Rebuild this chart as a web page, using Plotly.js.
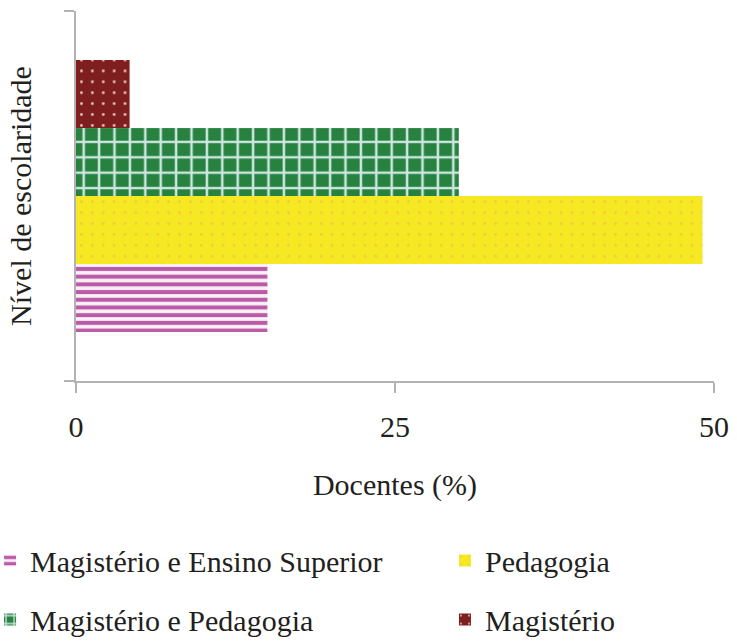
<!DOCTYPE html>
<html>
<head>
<meta charset="utf-8">
<script src="https://cdn.plot.ly/plotly-3.0.1.min.js"></script>
<style>
  html, body { margin: 0; padding: 0; background: #ffffff; }
  #chart { width: 737px; height: 641px; }
  #chart .modebar-container { display: none !important; }
  #chart svg text { font-family: "Liberation Serif", "Times New Roman", serif !important; }
</style>
</head>
<body>
<div id="chart"></div>
<script>
// Formação dos docentes por nível de escolaridade (%)
const category = ['Escolaridade'];
const seriesNames = [
  'Magistério e Ensino Superior',
  'Pedagogia',
  'Magistério e Pedagogia',
  'Magistério'
];
const seriesValues = [15.0, 49.1, 30.0, 4.2];
const xTickValues = [0, 25, 50];
const xTickLabels = ['0', '25', '50'];

const serif = 'Liberation Serif';
const ink = '#231f20';
const axisGrey = '#b3b3b3';

// fill style for each series, in trace order
const fills = [
  { color: '#ffffff', pattern: { shape: '-', bgcolor: '#f7f0f6', fgcolor: '#bb5aa6', size: 7.7, solidity: 0.52 } },
  { color: '#f6e924', pattern: { shape: '.', bgcolor: '#f6e924', fgcolor: '#f4c93a', size: 10.9, solidity: 0.05 } },
  { color: '#27813f', pattern: { shape: '+', bgcolor: '#27813f', fgcolor: '#cde7e1', size: 15.4, solidity: 0.3 } },
  { color: '#7f1e1e', pattern: { shape: '.', bgcolor: '#7f1e1e', fgcolor: '#e9c3c3', size: 10.9, solidity: 0.05 } }
];
// left legend column holds series 0 and 2, right column series 1 and 3
const legendOf = ['legend', 'legend2', 'legend', 'legend2'];

const traces = seriesNames.map((name, i) => ({
  type: 'bar',
  orientation: 'h',
  name: name,
  y: category,
  x: [seriesValues[i]],
  legend: legendOf[i],
  legendgroup: 'g' + i,
  marker: {
    color: fills[i].color,
    pattern: fills[i].pattern,
    line: { width: 0 }
  },
  hoverinfo: 'x+name'
}));

const legendCommon = {
  orientation: 'v',
  xanchor: 'left',
  yanchor: 'top',
  y: -0.415,
  traceorder: 'grouped',
  tracegroupgap: 17,
  font: { family: serif, size: 30, color: ink },
  bgcolor: 'rgba(0,0,0,0)',
  borderwidth: 0,
  indentation: -10
};

const layout = {
  width: 737,
  height: 641,
  margin: { l: 76, r: 23, t: 11, b: 260, autoexpand: false },
  paper_bgcolor: '#ffffff',
  plot_bgcolor: '#ffffff',
  barmode: 'group',
  bargap: 0.265,
  bargroupgap: 0,
  showlegend: true,
  font: { family: serif, size: 30, color: ink },
  xaxis: {
    range: [0, 50],
    tickmode: 'array',
    tickvals: xTickValues,
    ticktext: xTickLabels,
    showgrid: false,
    zeroline: false,
    showline: true,
    linecolor: axisGrey,
    linewidth: 1.5,
    ticks: 'outside',
    ticklen: 10,
    tickwidth: 1.5,
    tickcolor: axisGrey,
    ticklabelstandoff: 8,
    tickfont: { family: serif, size: 30, color: ink },
    title: { text: 'Docentes (%)', font: { family: serif, size: 30, color: ink }, standoff: 32 },
    fixedrange: true
  },
  yaxis: {
    type: 'category',
    showgrid: false,
    zeroline: false,
    showline: true,
    linecolor: axisGrey,
    linewidth: 1.5,
    ticks: 'outside',
    tickson: 'boundaries',
    ticklen: 10,
    tickwidth: 1.5,
    tickcolor: axisGrey,
    showticklabels: false,
    title: { text: 'Nível de escolaridade', font: { family: serif, size: 30, color: ink }, standoff: 34 },
    fixedrange: true
  },
  legend: Object.assign({}, legendCommon, { x: -0.119 }),
  legend2: Object.assign({}, legendCommon, { x: 0.594 })
};

Plotly.newPlot('chart', traces, layout, { responsive: false });
</script>
</body>
</html>
